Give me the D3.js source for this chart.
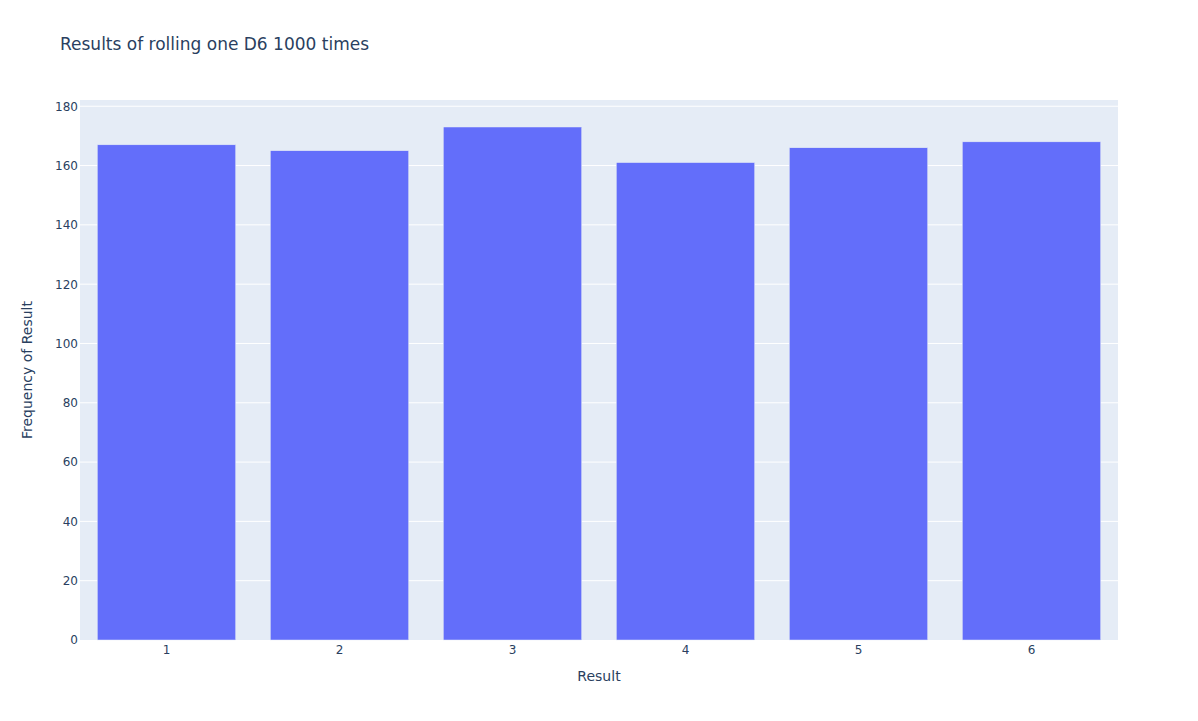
<!DOCTYPE html>
<html><head><meta charset="utf-8">
<script src="https://cdn.jsdelivr.net/npm/d3@7"></script>
<style>body{margin:0;background:#fff;} text{font-family:"DejaVu Sans",Verdana,sans-serif;}</style>
</head><body>
<svg id="c" width="1198" height="721"></svg>
<script>
const categories = ["1","2","3","4","5","6"];
const counts = [167, 165, 173, 161, 166, 168];
const yTicks = [0,20,40,60,80,100,120,140,160,180];
const titleText = "Results of rolling one D6 1000 times";
const xTitle = "Result";
const yTitle = "Frequency of Result";

const W=1198,H=721, m={l:80,r:80,t:100,b:81};
const svg=d3.select("#c");
const iw=W-m.l-m.r, ih=H-m.t-m.b;
const x=d3.scaleBand().domain(categories).range([m.l,m.l+iw]).paddingInner(0.2).paddingOuter(0.1);
const y=d3.scaleLinear().domain([0,173/0.95]).range([m.t+ih,m.t]);
const col="#2a3f5f";

svg.append("rect").attr("x",m.l).attr("y",m.t).attr("width",iw).attr("height",ih).attr("fill","#E5ECF6");
svg.append("g").selectAll("line").data(yTicks.filter(d=>d>0)).join("line")
  .attr("x1",m.l).attr("x2",m.l+iw).attr("y1",d=>y(d)).attr("y2",d=>y(d))
  .attr("stroke","#fff").attr("stroke-width",1);

svg.append("g").selectAll("rect").data(counts).join("rect")
  .attr("x",(d,i)=>x(categories[i])).attr("width",x.bandwidth())
  .attr("y",d=>y(d)).attr("height",d=>y(0)-y(d))
  .attr("fill","#636efa").attr("stroke","#E5ECF6").attr("stroke-width",0.5);

const ya=d3.axisLeft(y).tickValues(yTicks).tickSize(0).tickPadding(2);
const gy=svg.append("g").attr("transform",`translate(${m.l},0)`).call(ya);
gy.select(".domain").remove();
gy.selectAll("text").attr("fill",col).style("font-size","12px").style("font-family","'DejaVu Sans',Verdana,sans-serif");

const xa=d3.axisBottom(x).tickSize(0).tickPadding(5);
const gx=svg.append("g").attr("transform",`translate(0,${m.t+ih})`).call(xa);
gx.select(".domain").remove();
gx.selectAll("text").attr("fill",col).style("font-size","12px").style("font-family","'DejaVu Sans',Verdana,sans-serif");

svg.append("text").attr("x",60).attr("y",50).attr("fill",col).style("font-size","17px").text(titleText);
svg.append("text").attr("x",m.l+iw/2).attr("y",681).attr("text-anchor","middle").attr("fill",col).style("font-size","14px").text(xTitle);
svg.append("text").attr("transform",`translate(32,${m.t+ih/2}) rotate(-90)`).attr("text-anchor","middle").attr("fill",col).style("font-size","14px").text(yTitle);
</script>
</body></html>
